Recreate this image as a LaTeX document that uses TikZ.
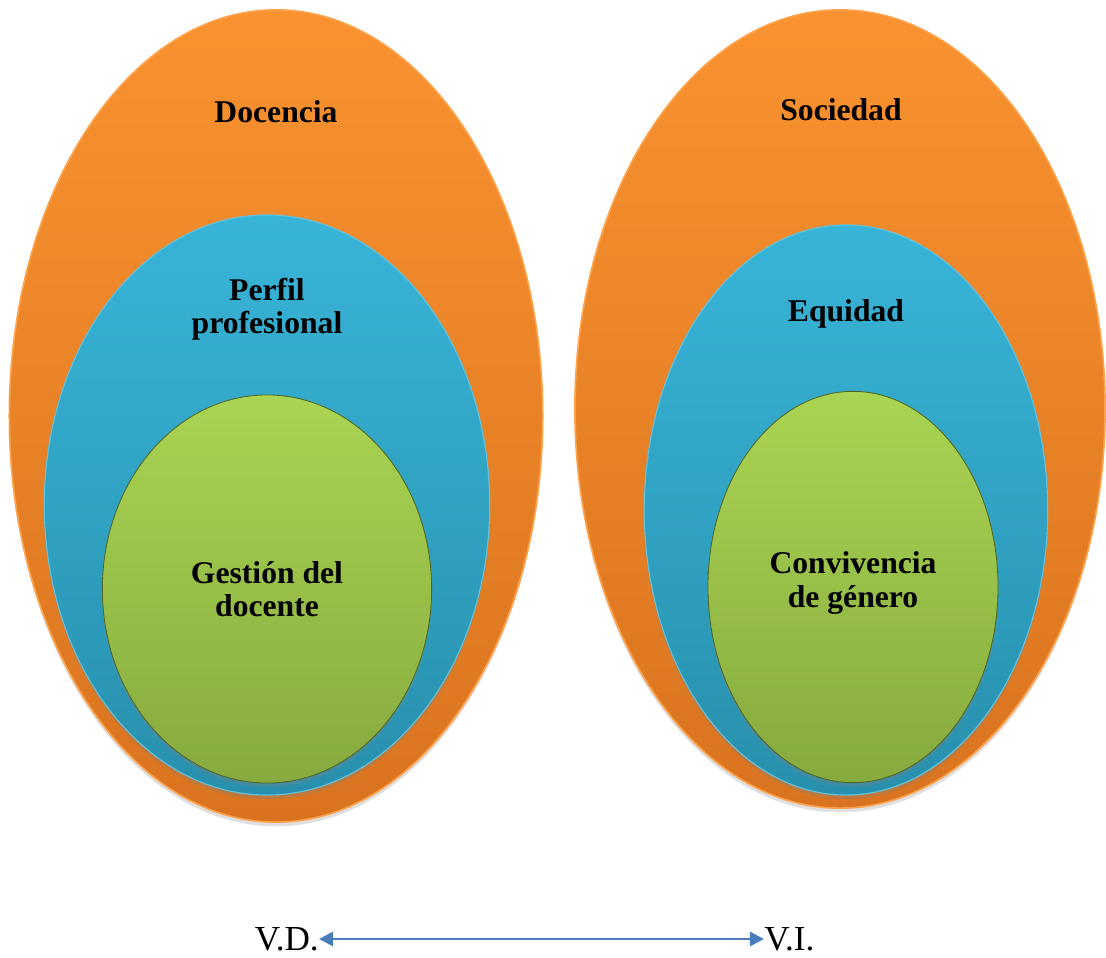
\documentclass[tikz,border=0pt]{standalone}
\usepackage{fontspec}
\setmainfont{Liberation Serif}
\usetikzlibrary{shapes.geometric,shadows,arrows.meta}
\definecolor{orangeTop}{HTML}{F9922F}
\definecolor{orangeBot}{HTML}{D9731F}
\definecolor{orangeRim}{HTML}{FDA24A}
\definecolor{blueTop}{HTML}{38B4D8}
\definecolor{blueBot}{HTML}{2890AD}
\definecolor{greenTop}{HTML}{AAD452}
\definecolor{greenBot}{HTML}{86AA3E}
\definecolor{arrowBlue}{HTML}{4A7EBB}
\begin{document}
\begin{tikzpicture}
        [x=0.025cm,y=-0.025cm,
         every node/.style={inner sep=0pt},
         outer/.style={ellipse,top color=orangeTop,bottom color=orangeBot,draw=orangeRim,line width=1.2pt,
                       drop shadow={opacity=0.25,shadow xshift=0pt,shadow yshift=-3pt}},
         middle/.style={ellipse,top color=blueTop,bottom color=blueBot,draw=blueTop!80!white,line width=0.8pt,
                       drop shadow={opacity=0.3,shadow xshift=0pt,shadow yshift=-3pt}},
         inner/.style={ellipse,top color=greenTop,bottom color=greenBot,draw=greenBot!60!black,line width=0.6pt,
                       drop shadow={opacity=0.3,shadow xshift=0pt,shadow yshift=-3pt}},
         lbl/.style={font=\fontsize{22.5}{23.5}\selectfont\bfseries,align=center},
         var/.style={font=\fontsize{25}{27}\selectfont}]
        \useasboundingbox (0,0) rectangle (1106,958);

        % V.D.
        \node[outer,  minimum width=13.33cm, minimum height=20.3cm]  (Doc)  at (276,416) {};
        \node[middle, minimum width=11.13cm, minimum height=14.5cm]  (Per)  at (267,505) {};
        \node[inner,  minimum width=8.23cm,  minimum height=9.7cm]   (Ges)  at (267,589) {};

        % V.I.
        \node[outer,  minimum width=13.25cm, minimum height=19.95cm] (Soc)  at (840,409) {};
        \node[middle, minimum width=10.08cm, minimum height=14.25cm] (Equ)  at (846,510) {};
        \node[inner,  minimum width=7.25cm,  minimum height=9.78cm]  (Con)  at (853,587) {};

        % labels
        \node[lbl] (DocL) at (276,112) {Docencia};
        \node[lbl] (PerL) at (267,309) {Perfil\\profesional};
        \node[lbl] (GesL) at (267,589) {Gestión del\\docente};
        \node[lbl] (SocL) at (841,110) {Sociedad};
        \node[lbl] (EquL) at (846,314) {Equidad};
        \node[lbl] (ConL) at (853,583) {Convivencia\\de género};

        % variables
        \node[var, anchor=east] (VD) at (319,939) {V.D.};
        \node[var, anchor=west] (VI) at (764,939) {V.I.};

        \draw[arrowBlue, line width=2pt, {Triangle[length=10pt,width=10pt]}-{Triangle[length=10pt,width=10pt]}]
        (VD) -- (VI);
    \end{tikzpicture}
\end{document}
